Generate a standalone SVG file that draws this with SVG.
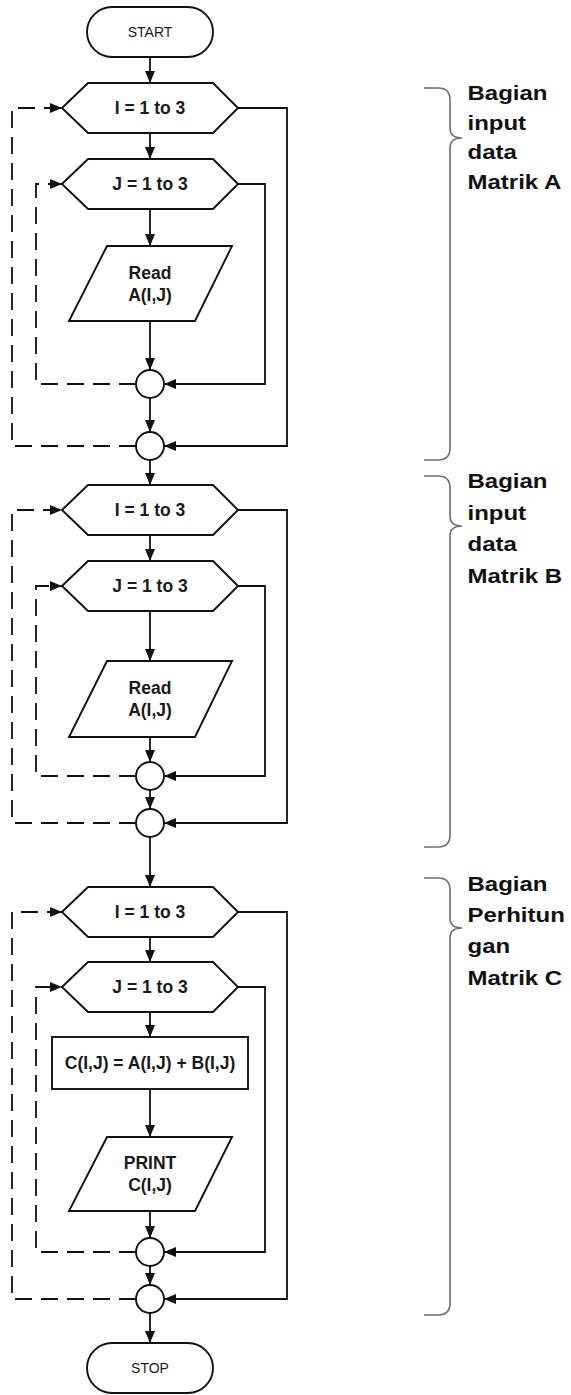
<svg xmlns="http://www.w3.org/2000/svg" width="571" height="1395" viewBox="0 0 571 1395">
  <style>
    .shape { fill: #ffffff; stroke: #111111; stroke-width: 1.9; }
    .flow { fill: none; stroke: #111111; stroke-width: 1.8; }
    .loop { fill: none; stroke: #111111; stroke-width: 1.8; stroke-dasharray: 17 9; }
    .brace { fill: none; stroke: #6e6e6e; stroke-width: 1.6; }
    .lbl { font-family: "Liberation Sans", Arial, sans-serif; font-weight: bold; font-size: 17.5px; fill: #1a1a1a; text-anchor: middle; }
    .term { font-family: "Liberation Sans", Arial, sans-serif; font-size: 14px; fill: #1a1a1a; text-anchor: middle; }
    .note { font-family: "Liberation Sans", Arial, sans-serif; font-weight: bold; font-size: 20px; fill: #111111; }
  </style>
  <defs>
    <marker id="arrow" viewBox="0 0 12 10" refX="12" refY="5" markerWidth="12" markerHeight="10" markerUnits="userSpaceOnUse" orient="auto">
      <path d="M0,0 L12,5 L0,10 z" fill="#111111"/>
    </marker>
  </defs>
  <rect width="571" height="1395" fill="#ffffff"/>

  <!-- connectors -->
  <g id="connectors">
    <!-- section A -->
    <path class="flow" d="M150,57 V83" marker-end="url(#arrow)"/>
    <path class="flow" d="M150,133 V159" marker-end="url(#arrow)"/>
    <path class="flow" d="M150,209 V246" marker-end="url(#arrow)"/>
    <path class="flow" d="M150,321 V370" marker-end="url(#arrow)"/>
    <path class="flow" d="M150,398 V432" marker-end="url(#arrow)"/>
    <path class="flow" d="M238,184 H265 V384 H164" marker-end="url(#arrow)"/>
    <path class="loop" d="M136,384 H36 V184 H62" marker-end="url(#arrow)"/>
    <path class="flow" d="M238,108 H287 V446 H164" marker-end="url(#arrow)"/>
    <path class="loop" d="M136,446 H12 V108 H62" marker-end="url(#arrow)"/>
    <path class="flow" d="M150,460 V485" marker-end="url(#arrow)"/>

    <!-- section B -->
    <path class="flow" d="M150,535 V561" marker-end="url(#arrow)"/>
    <path class="flow" d="M150,611 V661" marker-end="url(#arrow)"/>
    <path class="flow" d="M150,737 V762" marker-end="url(#arrow)"/>
    <path class="flow" d="M150,790 V809" marker-end="url(#arrow)"/>
    <path class="flow" d="M238,586 H265 V776 H164" marker-end="url(#arrow)"/>
    <path class="loop" d="M136,776 H36 V586 H62" marker-end="url(#arrow)"/>
    <path class="flow" d="M238,510 H287 V823 H164" marker-end="url(#arrow)"/>
    <path class="loop" d="M136,823 H12 V510 H62" marker-end="url(#arrow)"/>
    <path class="flow" d="M150,837 V887" marker-end="url(#arrow)"/>

    <!-- section C -->
    <path class="flow" d="M150,937 V962" marker-end="url(#arrow)"/>
    <path class="flow" d="M150,1012 V1037" marker-end="url(#arrow)"/>
    <path class="flow" d="M150,1089 V1137" marker-end="url(#arrow)"/>
    <path class="flow" d="M150,1211 V1238" marker-end="url(#arrow)"/>
    <path class="flow" d="M150,1266 V1285" marker-end="url(#arrow)"/>
    <path class="flow" d="M238,987 H265 V1252 H164" marker-end="url(#arrow)"/>
    <path class="loop" d="M136,1252 H36 V987 H62" marker-end="url(#arrow)"/>
    <path class="flow" d="M238,912 H287 V1299 H164" marker-end="url(#arrow)"/>
    <path class="loop" d="M136,1299 H12 V912 H62" marker-end="url(#arrow)"/>
    <path class="flow" d="M150,1313 V1343" marker-end="url(#arrow)"/>
  </g>

  <!-- nodes -->
  <g id="start">
    <rect class="shape" x="87" y="7" width="126" height="50" rx="25"/>
    <text class="term" x="150" y="37">START</text>
  </g>

  <g id="loopI-A">
    <polygon class="shape" points="62,108 88,83 213,83 238,108 213,133 88,133"/>
    <text class="lbl" x="150" y="114">I = 1 to 3</text>
  </g>
  <g id="loopJ-A">
    <polygon class="shape" points="62,184 88,159 213,159 238,184 213,209 88,209"/>
    <text class="lbl" x="150" y="190">J = 1 to 3</text>
  </g>
  <g id="readA">
    <polygon class="shape" points="107,246 232,246 195,321 69,321"/>
    <text class="lbl" x="150" y="279">Read</text>
    <text class="lbl" x="150" y="301">A(I,J)</text>
  </g>
  <g id="endJ-A"><circle class="shape" cx="150" cy="384" r="14"/></g>
  <g id="endI-A"><circle class="shape" cx="150" cy="446" r="14"/></g>

  <g id="loopI-B">
    <polygon class="shape" points="62,510 88,485 213,485 238,510 213,535 88,535"/>
    <text class="lbl" x="150" y="516">I = 1 to 3</text>
  </g>
  <g id="loopJ-B">
    <polygon class="shape" points="62,586 88,561 213,561 238,586 213,611 88,611"/>
    <text class="lbl" x="150" y="592">J = 1 to 3</text>
  </g>
  <g id="readB">
    <polygon class="shape" points="107,661 232,661 195,737 69,737"/>
    <text class="lbl" x="150" y="694">Read</text>
    <text class="lbl" x="150" y="716">A(I,J)</text>
  </g>
  <g id="endJ-B"><circle class="shape" cx="150" cy="776" r="14"/></g>
  <g id="endI-B"><circle class="shape" cx="150" cy="823" r="14"/></g>

  <g id="loopI-C">
    <polygon class="shape" points="62,912 88,887 213,887 238,912 213,937 88,937"/>
    <text class="lbl" x="150" y="918">I = 1 to 3</text>
  </g>
  <g id="loopJ-C">
    <polygon class="shape" points="62,987 88,962 213,962 238,987 213,1012 88,1012"/>
    <text class="lbl" x="150" y="993">J = 1 to 3</text>
  </g>
  <g id="sumC">
    <rect class="shape" x="52" y="1037" width="196" height="52"/>
    <text class="lbl" x="150" y="1069">C(I,J) = A(I,J) + B(I,J)</text>
  </g>
  <g id="printC">
    <polygon class="shape" points="107,1137 232,1137 195,1211 69,1211"/>
    <text class="lbl" x="150" y="1169">PRINT</text>
    <text class="lbl" x="150" y="1191">C(I,J)</text>
  </g>
  <g id="endJ-C"><circle class="shape" cx="150" cy="1252" r="14"/></g>
  <g id="endI-C"><circle class="shape" cx="150" cy="1299" r="14"/></g>

  <g id="stop">
    <rect class="shape" x="87" y="1343" width="126" height="50" rx="25"/>
    <text class="term" x="150" y="1373">STOP</text>
  </g>

  <!-- section braces and captions -->
  <g id="braceA">
    <path class="brace" d="M424,88 H438 Q450,88 450,100 V128 Q450,138 462,138 Q450,138 450,148 V448 Q450,460 438,460 H424"/>
    <g transform="translate(467.5,0) scale(1.2,1)">
      <text class="note" x="0" y="100.5">Bagian</text>
      <text class="note" x="0" y="130">input</text>
      <text class="note" x="0" y="159.5">data</text>
      <text class="note" x="0" y="188.7">Matrik A</text>
    </g>
  </g>
  <g id="braceB">
    <path class="brace" d="M424,476 H438 Q450,476 450,488 V516 Q450,526 462,526 Q450,526 450,536 V835 Q450,847 438,847 H424"/>
    <g transform="translate(467.5,0) scale(1.2,1)">
      <text class="note" x="0" y="488.3">Bagian</text>
      <text class="note" x="0" y="519.8">input</text>
      <text class="note" x="0" y="551.2">data</text>
      <text class="note" x="0" y="582.7">Matrik B</text>
    </g>
  </g>
  <g id="braceC">
    <path class="brace" d="M424,878 H438 Q450,878 450,890 V918 Q450,928 462,928 Q450,928 450,938 V1303 Q450,1315 438,1315 H424"/>
    <g transform="translate(467.5,0) scale(1.2,1)">
      <text class="note" x="0" y="890.7">Bagian</text>
      <text class="note" x="0" y="922.1">Perhitun</text>
      <text class="note" x="0" y="953.5">gan</text>
      <text class="note" x="0" y="985">Matrik C</text>
    </g>
  </g>
</svg>
